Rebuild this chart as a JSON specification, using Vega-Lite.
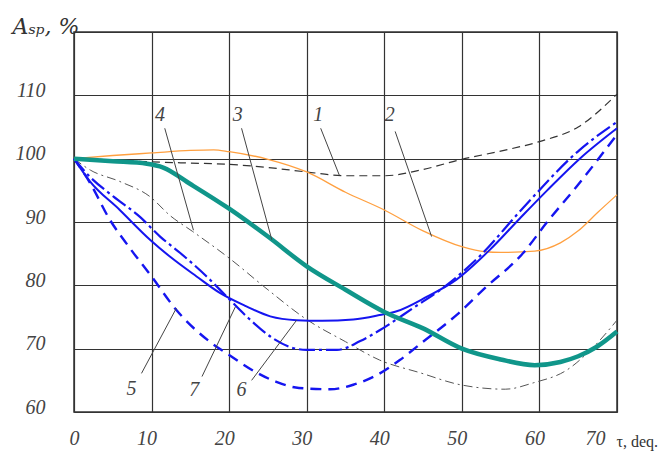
{
  "$schema": "https://vega.github.io/schema/vega-lite/v6.json",
  "width": 543,
  "height": 380,
  "autosize": {"type": "none"},
  "padding": {"left": 74, "top": 32, "right": 41, "bottom": 46},
  "background": "white",
  "config": {
    "view": {"stroke": "#333333", "strokeWidth": 1.5},
    "axis": {
      "grid": true,
      "gridColor": "#333333",
      "gridWidth": 1.2,
      "gridOpacity": 1,
      "domain": false,
      "ticks": false,
      "labelFont": "Liberation Sans Narrow",
      "labelFontStyle": "italic",
      "labelFontSize": 20,
      "labelColor": "#444444"
    }
  },
  "datasets": {
    "curves": [
      {"curve": "1", "x": 0, "y": 100}, {"curve": "1", "x": 5, "y": 99.8}, {"curve": "1", "x": 10, "y": 99.5}, {"curve": "1", "x": 15, "y": 99.3}, {"curve": "1", "x": 20, "y": 99.1}, {"curve": "1", "x": 25, "y": 98.6}, {"curve": "1", "x": 30, "y": 97.9}, {"curve": "1", "x": 35, "y": 97.3}, {"curve": "1", "x": 40, "y": 97.3}, {"curve": "1", "x": 45, "y": 98.3}, {"curve": "1", "x": 50, "y": 99.9}, {"curve": "1", "x": 55, "y": 101.2}, {"curve": "1", "x": 60, "y": 102.7}, {"curve": "1", "x": 65, "y": 105}, {"curve": "1", "x": 70, "y": 110.2},

      {"curve": "2", "x": 0, "y": 100}, {"curve": "2", "x": 5, "y": 100.5}, {"curve": "2", "x": 10, "y": 100.9}, {"curve": "2", "x": 15, "y": 101.3}, {"curve": "2", "x": 18, "y": 101.4}, {"curve": "2", "x": 20, "y": 101.1}, {"curve": "2", "x": 25, "y": 99.9}, {"curve": "2", "x": 30, "y": 97.9}, {"curve": "2", "x": 35, "y": 94.7}, {"curve": "2", "x": 40, "y": 91.9}, {"curve": "2", "x": 45, "y": 88.6}, {"curve": "2", "x": 50, "y": 86.1}, {"curve": "2", "x": 53, "y": 85.3}, {"curve": "2", "x": 55, "y": 85.2}, {"curve": "2", "x": 59.4, "y": 85.4}, {"curve": "2", "x": 62.7, "y": 86.7}, {"curve": "2", "x": 65, "y": 88.6}, {"curve": "2", "x": 67.5, "y": 91.5}, {"curve": "2", "x": 70, "y": 94.3},

      {"curve": "3", "x": 0, "y": 100}, {"curve": "3", "x": 5, "y": 99.6}, {"curve": "3", "x": 9.4, "y": 99.2}, {"curve": "3", "x": 11.5, "y": 98.6}, {"curve": "3", "x": 15, "y": 96}, {"curve": "3", "x": 20, "y": 92.1}, {"curve": "3", "x": 25, "y": 87.7}, {"curve": "3", "x": 30, "y": 83}, {"curve": "3", "x": 35, "y": 79.3}, {"curve": "3", "x": 40, "y": 75.8}, {"curve": "3", "x": 45, "y": 73.2}, {"curve": "3", "x": 50, "y": 70}, {"curve": "3", "x": 55, "y": 68.3}, {"curve": "3", "x": 59.4, "y": 67.4}, {"curve": "3", "x": 62.7, "y": 67.9}, {"curve": "3", "x": 65, "y": 68.8}, {"curve": "3", "x": 67.4, "y": 70.3}, {"curve": "3", "x": 70, "y": 72.7},

      {"curve": "4", "x": 0, "y": 100}, {"curve": "4", "x": 2.1, "y": 98.2}, {"curve": "4", "x": 5.9, "y": 96.4}, {"curve": "4", "x": 9.8, "y": 94}, {"curve": "4", "x": 12.4, "y": 91}, {"curve": "4", "x": 15.3, "y": 88.5}, {"curve": "4", "x": 20, "y": 84.3}, {"curve": "4", "x": 25, "y": 79.3}, {"curve": "4", "x": 30, "y": 74.6}, {"curve": "4", "x": 35, "y": 71.1}, {"curve": "4", "x": 39.4, "y": 68.2}, {"curve": "4", "x": 44.6, "y": 66.2}, {"curve": "4", "x": 49.8, "y": 64.3}, {"curve": "4", "x": 55.6, "y": 63.6}, {"curve": "4", "x": 59.2, "y": 64.6}, {"curve": "4", "x": 63.5, "y": 66.6}, {"curve": "4", "x": 67, "y": 70.3}, {"curve": "4", "x": 70, "y": 74.5},

      {"curve": "5", "x": 0, "y": 100}, {"curve": "5", "x": 2.1, "y": 96.1}, {"curve": "5", "x": 4.6, "y": 90.4}, {"curve": "5", "x": 7, "y": 86.2}, {"curve": "5", "x": 10, "y": 81.4}, {"curve": "5", "x": 13.2, "y": 76.1}, {"curve": "5", "x": 17.5, "y": 71.1}, {"curve": "5", "x": 20, "y": 69}, {"curve": "5", "x": 23, "y": 66.6}, {"curve": "5", "x": 26, "y": 64.8}, {"curve": "5", "x": 29, "y": 63.8}, {"curve": "5", "x": 33, "y": 63.6}, {"curve": "5", "x": 36, "y": 64.3}, {"curve": "5", "x": 39, "y": 65.8}, {"curve": "5", "x": 42, "y": 68.2}, {"curve": "5", "x": 45, "y": 71.1}, {"curve": "5", "x": 49.3, "y": 75.3}, {"curve": "5", "x": 53, "y": 79.6}, {"curve": "5", "x": 57.9, "y": 85.1}, {"curve": "5", "x": 61, "y": 90}, {"curve": "5", "x": 64.8, "y": 95.6}, {"curve": "5", "x": 70, "y": 103.8},

      {"curve": "6", "x": 0, "y": 100}, {"curve": "6", "x": 2, "y": 96.5}, {"curve": "6", "x": 5.9, "y": 91.9}, {"curve": "6", "x": 9.8, "y": 87.2}, {"curve": "6", "x": 12.4, "y": 84.5}, {"curve": "6", "x": 15.8, "y": 81.4}, {"curve": "6", "x": 18.8, "y": 78.8}, {"curve": "6", "x": 22, "y": 76.8}, {"curve": "6", "x": 25.3, "y": 75.1}, {"curve": "6", "x": 28.7, "y": 74.5}, {"curve": "6", "x": 32, "y": 74.4}, {"curve": "6", "x": 36, "y": 74.6}, {"curve": "6", "x": 39.4, "y": 75.3}, {"curve": "6", "x": 41.6, "y": 75.9}, {"curve": "6", "x": 45.5, "y": 78.2}, {"curve": "6", "x": 49.3, "y": 80.9}, {"curve": "6", "x": 53.6, "y": 85.6}, {"curve": "6", "x": 57.5, "y": 90.6}, {"curve": "6", "x": 61, "y": 95}, {"curve": "6", "x": 65.2, "y": 100}, {"curve": "6", "x": 70, "y": 104.8},

      {"curve": "7", "x": 0, "y": 100}, {"curve": "7", "x": 2, "y": 97.2}, {"curve": "7", "x": 5.1, "y": 94}, {"curve": "7", "x": 8.5, "y": 90.8}, {"curve": "7", "x": 11.1, "y": 87.7}, {"curve": "7", "x": 13.7, "y": 85.1}, {"curve": "7", "x": 17.1, "y": 81.4}, {"curve": "7", "x": 19.7, "y": 78.2}, {"curve": "7", "x": 22.5, "y": 74.8}, {"curve": "7", "x": 25.7, "y": 71.6}, {"curve": "7", "x": 28, "y": 70.2}, {"curve": "7", "x": 30, "y": 69.8}, {"curve": "7", "x": 33.9, "y": 69.8}, {"curve": "7", "x": 36.9, "y": 71.2}, {"curve": "7", "x": 39.4, "y": 72.9}, {"curve": "7", "x": 43.7, "y": 76.4}, {"curve": "7", "x": 48, "y": 80}, {"curve": "7", "x": 52.3, "y": 84.6}, {"curve": "7", "x": 57.5, "y": 91.7}, {"curve": "7", "x": 65.2, "y": 101.4}, {"curve": "7", "x": 70, "y": 105.8}
    ],
    "leaders": [
      {"label": "4", "x": 11.7, "y": 104.8, "x2": 15.4, "y2": 88.7},
      {"label": "3", "x": 21.6, "y": 104.8, "x2": 25.5, "y2": 87.2},
      {"label": "1", "x": 31.8, "y": 104.8, "x2": 34.2, "y2": 97.4},
      {"label": "2", "x": 41.4, "y": 104.3, "x2": 46.1, "y2": 87.7},
      {"label": "5", "x": 8.7, "y": 66.1, "x2": 13.2, "y2": 76.4},
      {"label": "7", "x": 16.5, "y": 65.6, "x2": 20.8, "y2": 76.6},
      {"label": "6", "x": 22.9, "y": 65.0, "x2": 28.7, "y2": 74.5}
    ],
    "labels": [
      {"label": "1", "x": 31.5, "y": 106.9},
      {"label": "2", "x": 40.7, "y": 106.9},
      {"label": "3", "x": 21.1, "y": 106.9},
      {"label": "4", "x": 11.1, "y": 106.9},
      {"label": "5", "x": 7.4, "y": 63.7},
      {"label": "7", "x": 15.5, "y": 63.5},
      {"label": "6", "x": 21.6, "y": 63.5}
    ]
  },
  "data": {"name": "curves"},
  "layer": [
    {
      "transform": [{"filter": "datum.curve == '1'"}],
      "mark": {"type": "line", "interpolate": "monotone", "color": "#333333", "strokeWidth": 1.2, "strokeDash": [8, 5]},
      "encoding": {
        "x": {
          "field": "x", "type": "quantitative",
          "scale": {"domain": [0, 70], "nice": false, "zero": false},
          "axis": {
            "values": [0, 10, 20, 30, 40, 50, 60, 70],
            "labelPadding": 16,
            "labelOffset": {"condition": {"test": "datum.value == 70", "value": -12}, "value": -5},
            "title": "τ, deq.",
            "titleFont": "Liberation Sans Narrow",
            "titleFontSize": 16,
            "titleFontWeight": "normal",
            "titleColor": "#333333",
            "titleAlign": "left",
            "titleBaseline": "middle",
            "titleAngle": 0,
            "titleX": 542,
            "titleY": 29
          }
        },
        "y": {
          "field": "y", "type": "quantitative",
          "scale": {"domain": [60, 120], "nice": false, "zero": false},
          "axis": {
            "values": [60, 70, 80, 90, 100, 110, 120],
            "labelExpr": "datum.value == 120 ? '' : datum.label",
            "labelPadding": 29,
            "labelOffset": -5,
            "title": "Aₛₚ, %",
            "titleFont": "DejaVu Serif",
            "titleFontStyle": "italic",
            "titleFontWeight": "normal",
            "titleFontSize": 22,
            "titleColor": "#333333",
            "titleAngle": 0,
            "titleAlign": "left",
            "titleBaseline": "middle",
            "titleX": -62,
            "titleY": -6
          }
        },
        "order": {"field": "x", "type": "quantitative"}
      }
    },
    {
      "transform": [{"filter": "datum.curve == '2'"}],
      "mark": {"type": "line", "interpolate": "monotone", "color": "#FFA040", "strokeWidth": 1.3},
      "encoding": {"x": {"field": "x", "type": "quantitative"}, "y": {"field": "y", "type": "quantitative"}, "order": {"field": "x", "type": "quantitative"}}
    },
    {
      "transform": [{"filter": "datum.curve == '4'"}],
      "mark": {"type": "line", "interpolate": "monotone", "color": "#555555", "strokeWidth": 1, "strokeDash": [9, 4, 2, 4]},
      "encoding": {"x": {"field": "x", "type": "quantitative"}, "y": {"field": "y", "type": "quantitative"}, "order": {"field": "x", "type": "quantitative"}}
    },
    {
      "transform": [{"filter": "datum.curve == '5'"}],
      "mark": {"type": "line", "interpolate": "monotone", "color": "#1515F0", "strokeWidth": 2.4, "strokeDash": [11, 7]},
      "encoding": {"x": {"field": "x", "type": "quantitative"}, "y": {"field": "y", "type": "quantitative"}, "order": {"field": "x", "type": "quantitative"}}
    },
    {
      "transform": [{"filter": "datum.curve == '6'"}],
      "mark": {"type": "line", "interpolate": "monotone", "color": "#1515F0", "strokeWidth": 2},
      "encoding": {"x": {"field": "x", "type": "quantitative"}, "y": {"field": "y", "type": "quantitative"}, "order": {"field": "x", "type": "quantitative"}}
    },
    {
      "transform": [{"filter": "datum.curve == '7'"}],
      "mark": {"type": "line", "interpolate": "monotone", "color": "#1515F0", "strokeWidth": 2.2, "strokeDash": [16, 4, 3, 4]},
      "encoding": {"x": {"field": "x", "type": "quantitative"}, "y": {"field": "y", "type": "quantitative"}, "order": {"field": "x", "type": "quantitative"}}
    },
    {
      "transform": [{"filter": "datum.curve == '3'"}],
      "mark": {"type": "line", "interpolate": "monotone", "color": "#10968A", "strokeWidth": 4.5},
      "encoding": {"x": {"field": "x", "type": "quantitative"}, "y": {"field": "y", "type": "quantitative"}, "order": {"field": "x", "type": "quantitative"}}
    },
    {
      "data": {"name": "leaders"},
      "mark": {"type": "rule", "color": "#444444", "strokeWidth": 1},
      "encoding": {
        "x": {"field": "x", "type": "quantitative"},
        "y": {"field": "y", "type": "quantitative"},
        "x2": {"field": "x2"},
        "y2": {"field": "y2"}
      }
    },
    {
      "data": {"name": "labels"},
      "mark": {"type": "text", "font": "Liberation Sans Narrow", "fontStyle": "italic", "fontSize": 20, "color": "#444444", "align": "center", "baseline": "middle"},
      "encoding": {
        "x": {"field": "x", "type": "quantitative"},
        "y": {"field": "y", "type": "quantitative"},
        "text": {"field": "label"}
      }
    }
  ]
}
